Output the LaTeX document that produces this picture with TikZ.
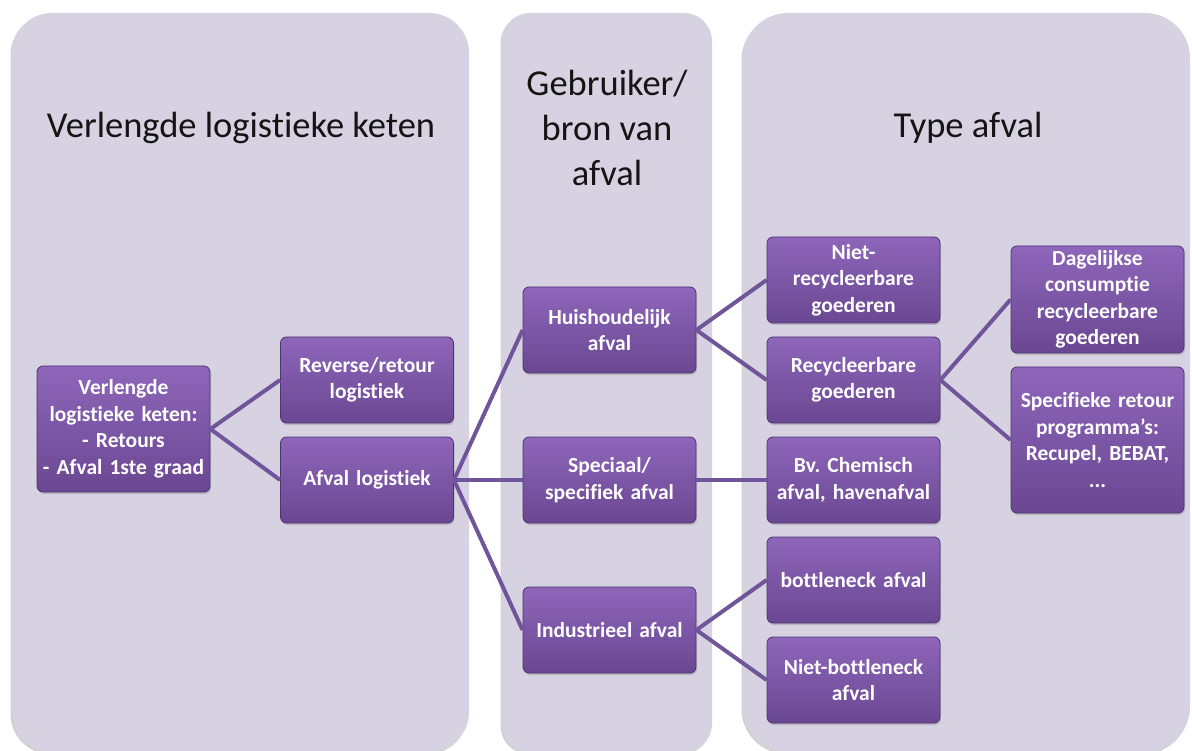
\documentclass[tikz,border=0pt]{standalone}
\usepackage{fontspec}
\setmainfont[Ligatures=ResetAll, RawFeature={-liga;-clig;-calt;-dlig}]{Carlito}
\usetikzlibrary{shadows}
\definecolor{panelfill}{HTML}{D6D2E1}
\definecolor{boxtop}{HTML}{8E66BA}
\definecolor{boxbot}{HTML}{6A4792}
\definecolor{boxline}{HTML}{4E3470}
\definecolor{linkcol}{HTML}{70559A}
\definecolor{titlecol}{HTML}{141414}
\frenchspacing
\begin{document}
\begin{tikzpicture}[x=1pt,y=-1pt,
  panel/.style={fill=panelfill, drop shadow={opacity=0.18, shadow xshift=-1.5pt, shadow yshift=-2pt, fill=black}},
  ttl/.style={text=titlecol, align=center, font=\fontsize{36.5}{45}\selectfont},
  box/.style={rectangle, rounded corners=6pt, draw=boxline, line width=0.8pt,
    top color=boxtop, bottom color=boxbot, text=white, align=center,
    minimum width=173pt, minimum height=86pt, text width=170pt, inner sep=0pt,
    font=\bfseries\fontsize{21.5}{26.5}\selectfont,
    drop shadow={opacity=0.35, shadow xshift=1pt, shadow yshift=-2pt}},
  link/.style={draw=linkcol, line width=4pt}]
\useasboundingbox (0,0) rectangle (1192,751);
% panels
\path[panel, rounded corners=40pt] (12,13) rectangle (469,752);
\path[panel, rounded corners=28pt] (502,13) rectangle (712,752);
\path[panel, rounded corners=45pt] (743,13) rectangle (1190,752);
% titles
\node[ttl] (t1) at (241,128) {Verlengde logistieke keten};
\node[ttl] (t2) at (607,128) {Gebruiker/\\bron van\\afval};
\node[ttl] (t3) at (968,128) {Type afval};
% boxes
\node[box, minimum height=126pt] (root) at (123.5,429) {Verlengde\\logistieke keten:\\- Retours\\- Afval 1ste graad};
\node[box] (rev) at (367,380) {Reverse/retour\\logistiek};
\node[box] (afl) at (367,480) {Afval logistiek};
\node[box] (hh) at (609.5,330) {Huishoudelijk\\afval};
\node[box] (spec) at (609.5,480) {Speciaal/\\specifiek afval};
\node[box] (ind) at (609.5,630) {Industrieel afval};
\node[box] (nrec) at (853.5,280) {Niet-\\recycleerbare\\goederen};
\node[box] (rec) at (853.5,380) {Recycleerbare\\goederen};
\node[box] (chem) at (853.5,480) {Bv. Chemisch\\afval, havenafval};
\node[box] (bott) at (853.5,580) {bottleneck afval};
\node[box] (nbott) at (853.5,680) {Niet-bottleneck\\afval};
\node[box, minimum height=107pt] (dag) at (1097.5,299.5) {Dagelijkse\\consumptie\\recycleerbare\\goederen};
\node[box, minimum height=146pt] (sret) at (1097.5,440) {Specifieke retour\\programma's:\\Recupel, BEBAT,\\...};
% connectors
\draw[link] (root.east) -- (rev.west);
\draw[link] (root.east) -- (afl.west);
\draw[link] (afl.east) -- (hh.west);
\draw[link] (afl.east) -- (spec.west);
\draw[link] (afl.east) -- (ind.west);
\draw[link] (hh.east) -- (nrec.west);
\draw[link] (hh.east) -- (rec.west);
\draw[link] (spec.east) -- (chem.west);
\draw[link] (ind.east) -- (bott.west);
\draw[link] (ind.east) -- (nbott.west);
\draw[link] (rec.east) -- (dag.west);
\draw[link] (rec.east) -- (sret.west);
\end{tikzpicture}
\end{document}
